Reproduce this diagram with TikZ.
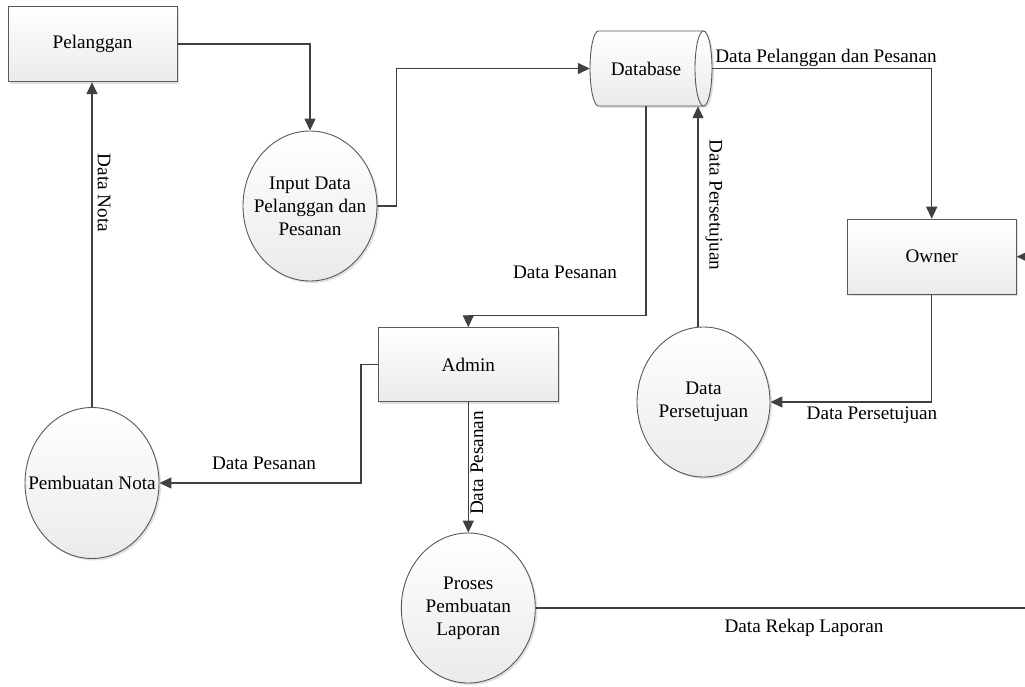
\documentclass[tikz,border=0pt]{standalone}
\usepackage{fontspec}
\setmainfont{Liberation Serif}
\newfontfamily\tnr{Liberation Serif}
\usetikzlibrary{arrows.meta,shapes.geometric,shadows}
\begin{document}
\begin{tikzpicture}[x=1pt,y=1pt,
  font=\tnr\fontsize{19.2}{23}\selectfont,
  line/.style={draw=black!75, line width=1.4pt},
  arr/.style={line, -{Triangle[length=12pt,width=11pt]}},
  shd/.style={drop shadow={shadow xshift=2pt,shadow yshift=-2pt,fill=black,opacity=0.12}},
  boxshape/.style={rectangle, draw=black!65, line width=0.9pt, top color=white, bottom color=black!8, shd, minimum height=75pt, inner sep=0pt},
  proc/.style={ellipse, draw=black!65, line width=0.9pt, top color=white, bottom color=black!8, shd, minimum width=134pt, minimum height=150pt, inner sep=0pt},
  ptext/.style={label={[align=center]center:#1}},
  lbl/.style={inner sep=0pt}
]
\useasboundingbox (0,0) rectangle (1025,-687);

% nodes
\node[boxshape, minimum width=169pt] (pel) at (92.6,-44.2) {Pelanggan};
\node[boxshape, minimum width=169pt] (owner) at (931.7,-256.7) {Owner};
\node[boxshape, minimum width=180pt, minimum height=74pt] (admin) at (468.3,-364.7) {Admin};

\node[proc, ptext={Input Data\\Pelanggan dan\\Pesanan}] (inp) at (310,-206) {};
\node[proc, minimum height=151pt, ptext={Pembuatan Nota}] (nota) at (92,-483) {};
\node[proc, minimum width=133pt, ptext={Data\\Persetujuan}] (pers) at (703.5,-402) {};
\node[proc, ptext={Proses\\Pembuatan\\Laporan}] (proses) at (468.3,-608) {};

% database (horizontal cylinder)
\path[top color=white, bottom color=black!8, draw=black!65, line width=0.9pt, shd]
  (598.5,-31) -- (703.5,-31) arc[start angle=90,end angle=-90,x radius=8.5,y radius=37.5]
  -- (598.5,-106) arc[start angle=270,end angle=90,x radius=8.5,y radius=37.5] -- cycle;
\draw[black!65, line width=0.9pt] (703.5,-31) arc[start angle=90,end angle=270,x radius=8.5,y radius=37.5];
\node[lbl, minimum width=122pt, minimum height=75pt] (db) at (651,-68.5) {};
\node[lbl] (dbtext) at (646,-69) {Database};

% connectors
\coordinate (oin) at (1025,-256.7);
\coordinate (rend) at (1025,-608);
\draw[arr] (pel.east) -| (inp.north);
\draw[arr] (inp.east) -- ++(19,0) |- (db.west);
\draw[arr] (db.east) -| (owner.north);
\draw[arr] ([xshift=-5pt]db.south) -- ++(0,-209) -| (admin.north);
\draw[arr] ([xshift=-5.5pt]pers.north) -- ([xshift=47pt]db.south);
\draw[arr] (owner.south) |- (pers.east);
\draw[arr] (admin.west) -- ++(-17,0) |- (nota.east);
\draw[arr] (nota.north) -- (nota.north |- pel.south);
\draw[arr] (admin.south) -- (proses.north);
\draw[line] (proses.east) -- (rend);
\draw[arr] (oin) -- (owner.east);

% labels
\node[lbl] (l1) at (826,-58) {Data Pelanggan dan Pesanan};
\node[lbl] (l2) at (565,-272) {Data Pesanan};
\node[lbl, rotate=-90] (l3) at (714,-205) {Data Persetujuan};
\node[lbl] (l4) at (872,-415) {Data Persetujuan};
\node[lbl] (l5) at (264,-463) {Data Pesanan};
\node[lbl, rotate=-90] (l6) at (104,-193) {Data Nota};
\node[lbl, rotate=90] (l7) at (477,-463) {Data Pesanan};
\node[lbl] (l8) at (804,-628) {Data Rekap Laporan};
\end{tikzpicture}
\end{document}
